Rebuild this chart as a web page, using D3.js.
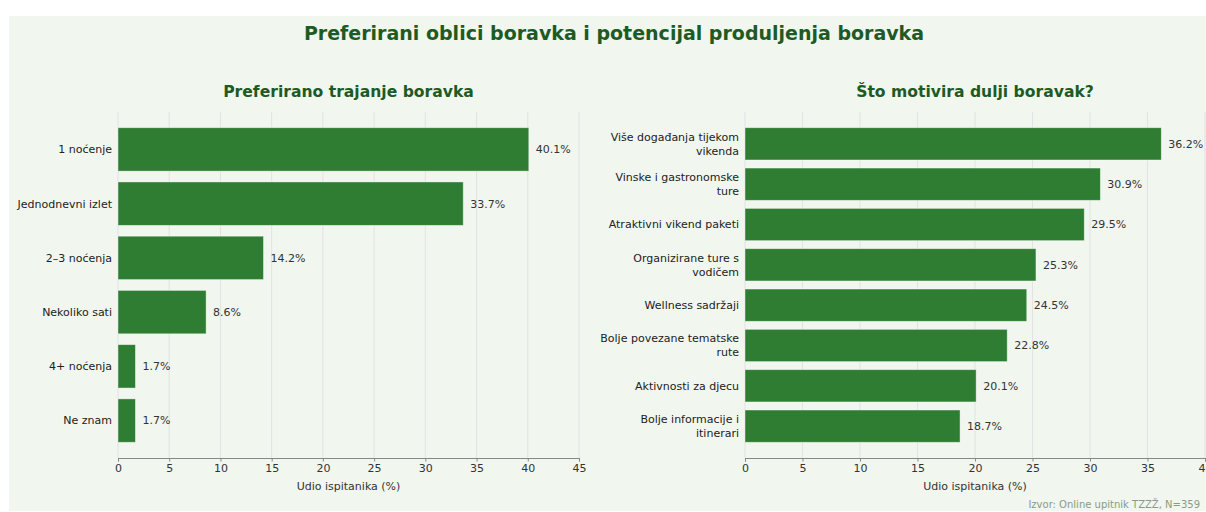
<!DOCTYPE html>
<html>
<head>
<meta charset="utf-8">
<script src="https://cdn.jsdelivr.net/npm/d3@7"></script>
<style>
  html, body { margin: 0; padding: 0; background: #ffffff; }
  svg { display: block; font-family: "DejaVu Sans", sans-serif; }
</style>
</head>
<body>
<svg id="chart" width="1206" height="512"></svg>
<script>
// ---- Data ----
const mainTitle = "Preferirani oblici boravka i potencijal produljenja boravka";
const leftTitle = "Preferirano trajanje boravka";
const rightTitle = "Što motivira dulji boravak?";
const axisTitle = "Udio ispitanika (%)";
const sourceNote = "Izvor: Online upitnik TZZŽ, N=359";

const durationCategories = ["1 noćenje", "Jednodnevni izlet", "2–3 noćenja", "Nekoliko sati", "4+ noćenja", "Ne znam"];
const durationValues = [40.1, 33.7, 14.2, 8.6, 1.7, 1.7];
const durationTicks = [0, 5, 10, 15, 20, 25, 30, 35, 40, 45];

const motiveCategories = [
  "Više događanja tijekom vikenda",
  "Vinske i gastronomske ture",
  "Atraktivni vikend paketi",
  "Organizirane ture s vodičem",
  "Wellness sadržaji",
  "Bolje povezane tematske rute",
  "Aktivnosti za djecu",
  "Bolje informacije i itinerari"
];
const motiveValues = [36.2, 30.9, 29.5, 25.3, 24.5, 22.8, 20.1, 18.7];
const motiveTicks = [0, 5, 10, 15, 20, 25, 30, 35, 40];

// ---- Styles ----
const BAR = "#2e7d32";
const TITLE = "#1e5a23";
const BG = "#f1f6ef";

const svg = d3.select("#chart");
svg.append("rect").attr("x", 9).attr("y", 16).attr("width", 1206 - 9).attr("height", 512 - 16 - 1).attr("fill", BG);

svg.append("text").attr("x", 614).attr("y", 40).attr("text-anchor", "middle")
  .attr("font-size", 19).attr("font-weight", "bold").attr("fill", TITLE).text(mainTitle);

function wrap(str, width) {
  const words = str.split(" ");
  const lines = [];
  let cur = "";
  words.forEach(w => {
    if (!cur) cur = w;
    else if ((cur + " " + w).length <= width) cur += " " + w;
    else { lines.push(cur); cur = w; }
  });
  if (cur) lines.push(cur);
  return lines;
}

function panel(opts) {
  const { x0, x1, y0, y1, cats, vals, ticks, maxX, title, wrapWidth } = opts;
  const g = svg.append("g");
  const n = cats.length;
  const x = d3.scaleLinear().domain([0, maxX]).range([x0, x1]);
  const y = d3.scaleBand().domain(cats).range([y0, y1])
    .paddingInner(0.2).paddingOuter(0.05 * (n - 0.2)).align(0.5);

  // grid
  g.append("g").selectAll("line").data(ticks).join("line")
    .attr("x1", d => x(d)).attr("x2", d => x(d))
    .attr("y1", y0).attr("y2", y1)
    .attr("stroke", "#dedede").attr("stroke-width", 0.8);

  // bars
  g.append("g").selectAll("rect").data(vals).join("rect")
    .attr("x", x(0)).attr("y", (d, i) => y(cats[i]))
    .attr("width", d => x(d) - x(0)).attr("height", y.bandwidth())
    .attr("fill", BAR).attr("stroke", "#ffffff").attr("stroke-opacity", 0.5).attr("stroke-width", 0.8);

  // value labels
  g.append("g").selectAll("text").data(vals).join("text")
    .attr("x", d => x(d) + 7).attr("y", (d, i) => y(cats[i]) + y.bandwidth() / 2)
    .attr("dy", "0.35em").attr("font-size", 11).attr("fill", "#333")
    .text(d => d.toFixed(1) + "%");

  // category labels
  const lab = g.append("g").selectAll("text").data(cats).join("text")
    .attr("x", x0 - 6).attr("text-anchor", "end").attr("font-size", 11).attr("fill", "#222");
  lab.each(function (d) {
    const lines = wrapWidth ? wrap(d, wrapWidth) : [d];
    const cy = y(d) + y.bandwidth() / 2;
    const lh = 14;
    const t = d3.select(this);
    lines.forEach((l, k) => {
      t.append("tspan").attr("x", x0 - 6)
        .attr("y", cy + (k - (lines.length - 1) / 2) * lh)
        .attr("dy", "0.35em").text(l);
    });
  });

  // x axis
  const ax = g.append("g").attr("transform", `translate(0,${y1})`)
    .call(d3.axisBottom(x).tickValues(ticks).tickSize(3.5).tickPadding(3).tickFormat(d3.format("d")));
  ax.select(".domain").attr("stroke", "#888").attr("stroke-width", 1);
  ax.selectAll(".tick line").attr("stroke", "#888");
  ax.selectAll(".tick text").attr("font-size", 11).attr("fill", "#333").attr("font-family", "DejaVu Sans");

  g.append("text").attr("x", (x0 + x1) / 2).attr("y", y1 + 32).attr("text-anchor", "middle")
    .attr("font-size", 11).attr("fill", "#333").text(axisTitle);

  g.append("text").attr("x", (x0 + x1) / 2).attr("y", 97).attr("text-anchor", "middle")
    .attr("font-size", 15.6).attr("font-weight", "bold").attr("fill", TITLE).text(title);
}

panel({ x0: 118, x1: 579, y0: 112, y1: 458, cats: durationCategories, vals: durationValues,
  ticks: durationTicks, maxX: 45, title: leftTitle, wrapWidth: 0 });
panel({ x0: 745, x1: 1205, y0: 112, y1: 458, cats: motiveCategories, vals: motiveValues,
  ticks: motiveTicks, maxX: 40, title: rightTitle, wrapWidth: 25 });

svg.append("text").attr("x", 1200).attr("y", 508).attr("text-anchor", "end")
  .attr("font-size", 10).attr("fill", "#8a9a88").text(sourceNote);
</script>
</body>
</html>
